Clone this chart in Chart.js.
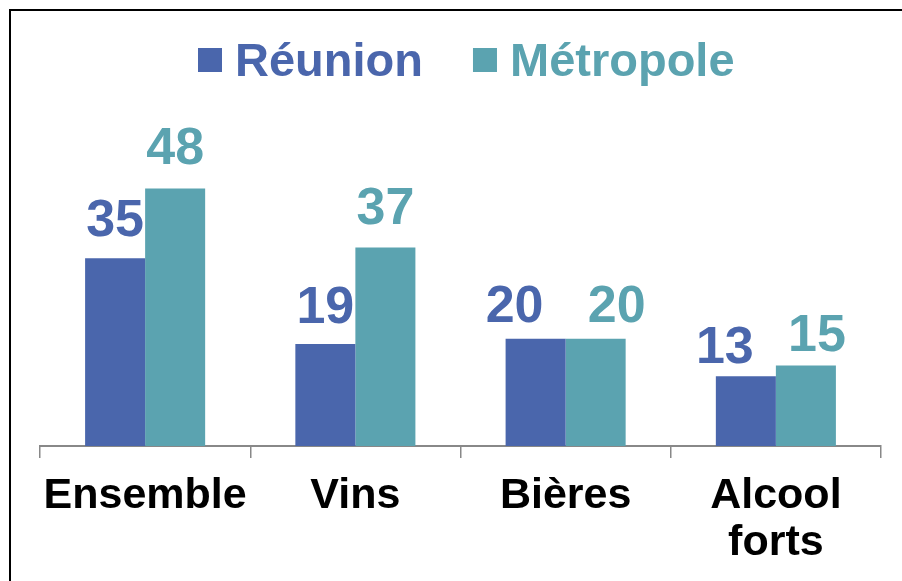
<!DOCTYPE html>
<html>
<head>
<meta charset="utf-8">
<script src="https://cdn.jsdelivr.net/npm/chart.js@4"></script>
<style>
html,body{margin:0;padding:0;background:#fff;}
#wrap{position:relative;width:902px;height:581px;}
</style>
</head>
<body>
<div id="wrap"><canvas id="c" width="902" height="581"></canvas></div>
<script>
const categories = ['Ensemble', 'Vins', 'Bières', ['Alcool', 'forts']];
const seriesNames = ['Réunion', 'Métropole'];
const reunion = [35, 19, 20, 13];
const metropole = [48, 37, 20, 15];
const colors = ['#4A66AC', '#5BA3B0'];
const FONT = '"Liberation Sans", Arial, sans-serif';

const framePlugin = {
  id: 'frame',
  beforeDraw(chart) {
    const ctx = chart.ctx;
    ctx.save();
    ctx.fillStyle = '#fff';
    ctx.fillRect(0, 0, chart.width, chart.height);
    ctx.strokeStyle = '#000';
    ctx.lineWidth = 2;
    ctx.beginPath();
    ctx.moveTo(10, chart.height + 2);
    ctx.lineTo(10, 10);
    ctx.lineTo(chart.width + 2, 10);
    ctx.stroke();
    ctx.restore();
  }
};

const legendPlugin = {
  id: 'customLegend',
  afterDraw(chart) {
    const ctx = chart.ctx;
    ctx.save();
    ctx.font = 'bold 47px ' + FONT;
    ctx.textBaseline = 'alphabetic';
    ctx.textAlign = 'left';
    let x = 198;
    chart.data.datasets.forEach((ds, i) => {
      ctx.fillStyle = ds.backgroundColor;
      ctx.fillRect(x, 48, 24, 24);
      x += 24 + 13;
      ctx.fillText(ds.label, x, 76);
      x += ctx.measureText(ds.label).width + 50;
    });
    ctx.restore();
  }
};

// label placement tweaks (pixels), as in the original where overlapping labels were nudged
const labelOffsets = {
  dx: [[0, 0, -21, -21], [0, 0, 21, 11]],
  gap: [[22, 21, 17, 13], [24, 23, 17, 15]]
};

const labelPlugin = {
  id: 'valueLabels',
  afterDatasetsDraw(chart) {
    const ctx = chart.ctx;
    ctx.save();
    ctx.font = 'bold 52px ' + FONT;
    ctx.textAlign = 'center';
    ctx.textBaseline = 'alphabetic';
    chart.data.datasets.forEach((ds, i) => {
      const meta = chart.getDatasetMeta(i);
      ctx.fillStyle = ds.backgroundColor;
      meta.data.forEach((bar, j) => {
        ctx.fillText(String(ds.data[j]), bar.x + labelOffsets.dx[i][j], bar.y - labelOffsets.gap[i][j]);
      });
    });
    ctx.restore();
  }
};

new Chart(document.getElementById('c'), {
  type: 'bar',
  data: {
    labels: categories,
    datasets: [
      { label: seriesNames[0], data: reunion, backgroundColor: colors[0] },
      { label: seriesNames[1], data: metropole, backgroundColor: colors[1] }
    ]
  },
  options: {
    responsive: false,
    animation: false,
    devicePixelRatio: 1,
    layout: { padding: { top: 124, left: 40, right: 21, bottom: 0 } },
    datasets: { bar: { categoryPercentage: 0.571, barPercentage: 1.0, borderWidth: 0 } },
    plugins: { legend: { display: false }, tooltip: { enabled: false } },
    scales: {
      x: {
        afterFit(s) { s.height = 135; },
        border: { display: true, color: '#888888', width: 2 },
        grid: { display: true, drawOnChartArea: false, drawTicks: true, tickLength: 12, color: '#888888', lineWidth: 1.5, offset: true },
        ticks: {
          color: '#000',
          font: { family: FONT, size: 43, weight: 'bold', lineHeight: 1.1 },
          padding: 14,
          maxRotation: 0,
          autoSkip: false
        }
      },
      y: { display: false, min: 0, max: 60 }
    }
  },
  plugins: [framePlugin, labelPlugin, legendPlugin]
});
</script>
</body>
</html>
